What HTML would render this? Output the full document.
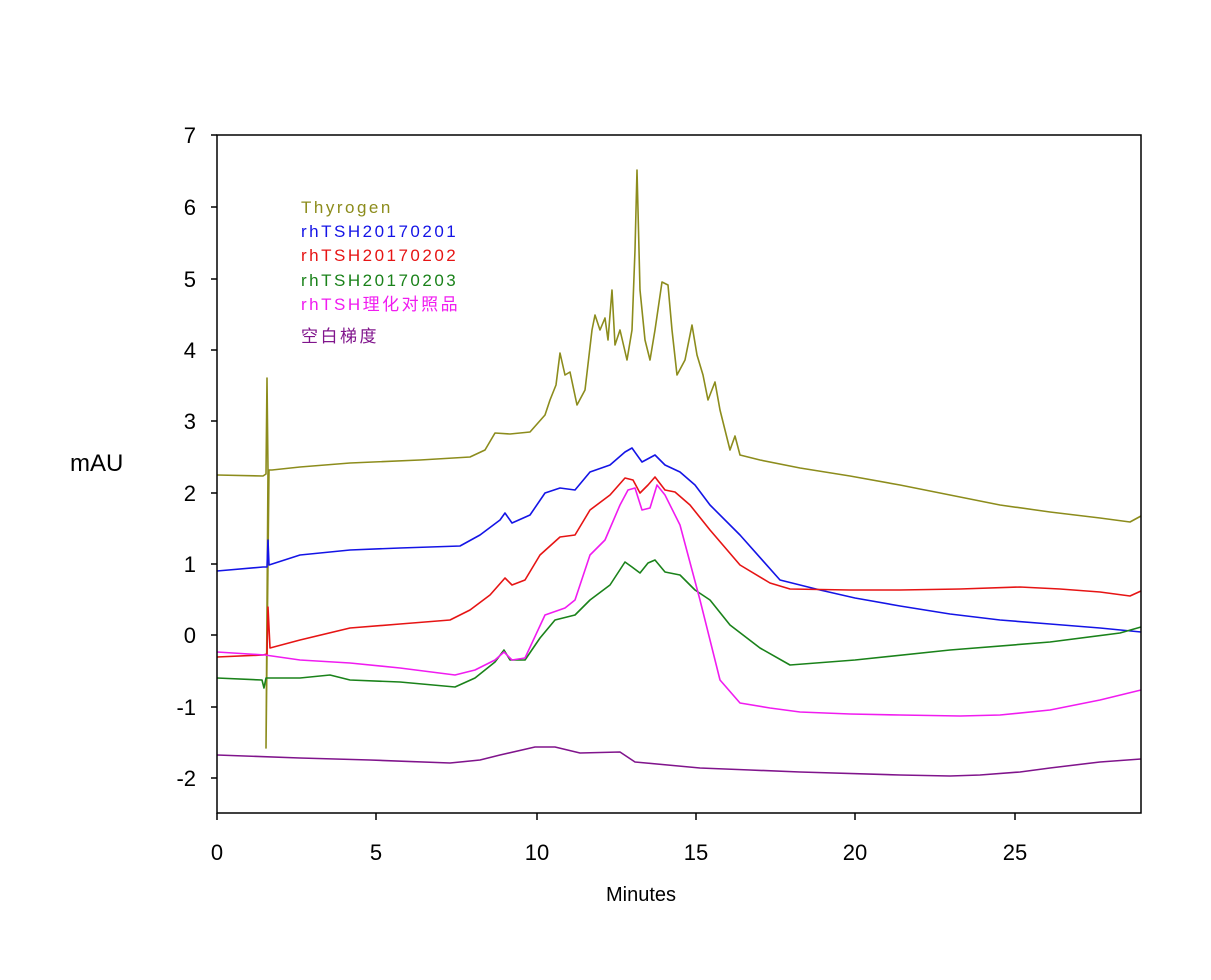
<!DOCTYPE html>
<html><head><meta charset="utf-8"><style>
html,body{margin:0;padding:0;background:#fff;}
svg{display:block;}
text{font-family:"Liberation Sans","Noto Sans CJK SC",sans-serif;}
</style></head><body>
<svg width="1211" height="980" viewBox="0 0 1211 980" xmlns="http://www.w3.org/2000/svg">
<rect width="1211" height="980" fill="#fff"/>
<g fill="none" stroke-width="1.6" stroke-linejoin="round">
<polyline stroke="#8C8C1C" points="217,475 263,476 266,474 267,378 268,470 266,748 269,470 272,470 300,467 350,463 420,460 470,457 485,450 495,433 510,434 530,432 545,415 550,400 556,385 560,353 565,375 570,372 577,405 585,390 592,330 595,315 600,330 605,318 608,340 612,290 615,345 620,330 627,360 632,330 635,250 637,170 640,290 645,340 650,360 655,330 662,282 668,285 672,330 677,375 685,360 692,325 697,355 703,375 708,400 715,382 720,410 730,450 735,436 740,455 760,460 800,468 850,476 900,485 950,495 1000,505 1050,512 1100,518 1130,522 1141,516"/>
<polyline stroke="#1414E6" points="217,571 263,567 267,567 268,540 269,565 300,555 350,550 400,548 460,546 480,535 500,520 505,513 512,523 530,515 545,493 560,488 575,490 590,472 610,465 625,452 632,448 642,462 655,455 665,465 680,472 695,485 710,505 740,535 780,580 820,590 855,598 900,606 950,614 1000,620 1050,624 1100,628 1141,632"/>
<polyline stroke="#E61414" points="217,657 263,655 267,654 268,607 270,648 300,640 350,628 400,624 450,620 470,610 490,595 505,578 512,585 525,580 540,555 560,537 575,535 590,510 610,495 625,478 633,480 640,493 648,485 655,477 665,490 675,492 690,505 710,530 740,565 770,583 790,589 850,590 900,590 960,589 1020,587 1060,589 1100,592 1130,596 1141,591"/>
<polyline stroke="#1A821A" points="217,678 262,680 264,688 266,678 300,678 330,675 350,680 400,682 455,687 475,678 495,662 504,650 510,660 525,660 540,638 555,620 575,615 590,600 610,585 625,562 632,567 640,573 648,563 655,560 665,572 680,575 695,590 710,600 730,625 760,648 790,665 855,660 950,650 1050,642 1120,633 1141,627"/>
<polyline stroke="#F01CF0" points="217,652 265,655 300,660 350,663 400,668 455,675 475,670 495,660 504,652 512,660 525,658 545,615 565,608 575,600 590,555 605,540 620,505 628,490 635,488 642,510 650,508 657,485 665,495 680,525 700,600 720,680 740,703 770,708 800,712 850,714 900,715 960,716 1000,715 1050,710 1100,700 1141,690"/>
<polyline stroke="#80148C" points="217,755 300,758 370,760 450,763 480,760 500,755 535,747 555,747 580,753 620,752 635,762 700,768 750,770 800,772 900,775 950,776 980,775 1020,772 1050,768 1100,762 1141,759"/>
</g>
<rect x="217" y="135" width="924" height="678" fill="none" stroke="#000" stroke-width="1.5"/>
<g stroke="#000" stroke-width="1.5">
<line x1="211" y1="135" x2="217" y2="135"/><line x1="211" y1="207" x2="217" y2="207"/><line x1="211" y1="279" x2="217" y2="279"/><line x1="211" y1="350" x2="217" y2="350"/><line x1="211" y1="421" x2="217" y2="421"/><line x1="211" y1="493" x2="217" y2="493"/><line x1="211" y1="564" x2="217" y2="564"/><line x1="211" y1="635" x2="217" y2="635"/><line x1="211" y1="707" x2="217" y2="707"/><line x1="211" y1="778" x2="217" y2="778"/>
<line x1="217" y1="813" x2="217" y2="820"/><line x1="376" y1="813" x2="376" y2="820"/><line x1="537" y1="813" x2="537" y2="820"/><line x1="696" y1="813" x2="696" y2="820"/><line x1="855" y1="813" x2="855" y2="820"/><line x1="1015" y1="813" x2="1015" y2="820"/>
</g>
<g font-size="22" text-anchor="end" fill="#000">
<text x="196" y="143">7</text><text x="196" y="215">6</text><text x="196" y="287">5</text><text x="196" y="358">4</text><text x="196" y="429">3</text><text x="196" y="501">2</text><text x="196" y="572">1</text><text x="196" y="643">0</text><text x="196" y="715">-1</text><text x="196" y="786">-2</text>
</g>
<g font-size="22" text-anchor="middle" fill="#000">
<text x="217" y="860">0</text><text x="376" y="860">5</text><text x="537" y="860">10</text><text x="696" y="860">15</text><text x="855" y="860">20</text><text x="1015" y="860">25</text>
</g>
<text x="70" y="471" font-size="24">mAU</text>
<text x="641" y="901" font-size="20" text-anchor="middle">Minutes</text>
<g font-size="17" letter-spacing="2.5">
<text x="301" y="213" fill="#8C8C1C">Thyrogen</text>
<text x="301" y="237" fill="#1414E6">rhTSH20170201</text>
<text x="301" y="261" fill="#E61414">rhTSH20170202</text>
<text x="301" y="286" fill="#1A821A">rhTSH20170203</text>
<text x="301" y="310" fill="#F01CF0">rhTSH理化对照品</text>
<text x="301" y="342" fill="#80148C">空白梯度</text>
</g>
</svg>
</body></html>
